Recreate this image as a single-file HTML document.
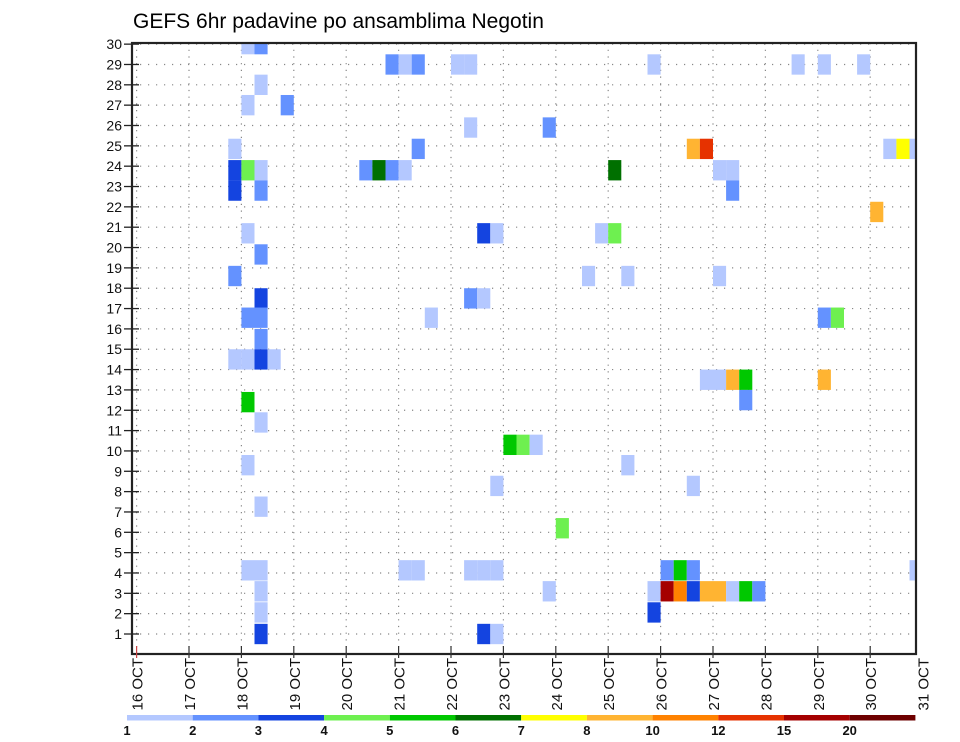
<!DOCTYPE html>
<html><head><meta charset="utf-8"><style>
html,body{margin:0;padding:0;background:#fff;}
svg{display:block;font-family:"Liberation Sans",sans-serif;}
</style></head><body>
<svg id="chart" width="960" height="742" viewBox="0 0 960 742" xmlns="http://www.w3.org/2000/svg">
<text x="133" y="28" font-size="21" fill="#000">GEFS 6hr padavine po ansamblima Negotin</text>
<g id="grid"></g>
<g id="cells"></g>
<g id="axes"></g>
<g id="legend"></g>
</svg>
<script>
// 6-hourly step index (from 16 OCT 00Z) at end of accumulation
const cellSteps =   [9,10, 20,21,22,25,26,40,51,53,56, 10, 9,12, 26,32, 8,22,43,44,58,59,60, 8,9,10,18,19,20,21,37,45,46, 8,10,46, 57, 9,27,28,36,37, 10, 8,35,38,45, 10,26,27, 9,10,23,53,54, 10, 8,9,10,11, 44,45,46,47,53, 9,47, 10, 29,30,31, 9,38, 28,43, 10, 33, 9,10,21,22,26,27,28,41,42,43,60, 10,32,40,41,42,43,44,45,46,47,48, 10,40, 10,27,28];
// ensemble member position (as read against the member axis)
const cellMembers = [30,30, 29,29,29,29,29,29,29,29,29, 28, 27,27, 25.9,25.9, 24.85,24.85,24.85,24.85,24.85,24.85,24.85, 23.8,23.8,23.8,23.8,23.8,23.8,23.8,23.8,23.8,23.8, 22.8,22.8,22.8, 21.75, 20.7,20.7,20.7,20.7,20.7, 19.66, 18.6,18.6,18.6,18.6, 17.5,17.5,17.5, 16.55,16.55,16.55,16.55,16.55, 15.5, 14.5,14.5,14.5,14.5, 13.5,13.5,13.5,13.5,13.5, 12.4,12.5, 11.4, 10.3,10.3,10.3, 9.3,9.3, 8.28,8.28, 7.26, 6.2, 4.13,4.13,4.13,4.13,4.13,4.13,4.13,4.13,4.13,4.13,4.13, 3.1,3.1,3.1,3.1,3.1,3.1,3.1,3.1,3.1,3.1,3.1, 2.06,2.06, 1,1,1];
// precipitation (mm / 6h)
const cellValues =  [1.5,2.5, 2.5,1.5,2.5,1.5,1.5,1.5,1.5,1.5,1.5, 1.5, 1.5,2.5, 1.5,2.5, 1.5,2.5,9,13.5,1.5,7.5,1.5, 3.5,4.5,1.5,2.5,6.5,2.5,1.5,6.5,1.5,1.5, 3.5,2.5,2.5, 9, 1.5,3.5,1.5,1.5,4.5, 2.5, 2.5,1.5,1.5,1.5, 3.5,2.5,1.5, 2.5,2.5,1.5,2.5,4.5, 2.5, 1.5,1.5,3.5,1.5, 1.5,1.5,9,5.5,9, 5.5,2.5, 1.5, 5.5,4.5,1.5, 1.5,1.5, 1.5,1.5, 1.5, 4.5, 1.5,1.5,1.5,1.5,1.5,1.5,1.5,2.5,5.5,2.5,1.5, 1.5,1.5,1.5,17.5,11,3.5,9,9,1.5,5.5,2.5, 1.5,3.5, 3.5,3.5,1.5];
const levelBounds = [1,2,3,4,5,6,7,8,10,12,15,20];
const levelColors = ["#b4c8ff","#6492ff","#1444e0","#6ef050","#00c800","#007000","#ffff00","#ffb432","#ff8200","#e63200","#a50000","#6e0000"];
const dayLabels = ["16 OCT","17 OCT","18 OCT","19 OCT","20 OCT","21 OCT","22 OCT","23 OCT","24 OCT","25 OCT","26 OCT","27 OCT","28 OCT","29 OCT","30 OCT","31 OCT"];
const memberTicks = [1,2,3,4,5,6,7,8,9,10,11,12,13,14,15,16,17,18,19,20,21,22,23,24,25,26,27,28,29,30];

const NS="http://www.w3.org/2000/svg";
const L=132,R=916,T=43,B=654;
const day0X=136.6, dayW=52.4;
const xStep = s => day0X + s*dayW/4;
const yMem = m => 634 - (m-1)*20.34;
const rowH = 20.34;
function colorFor(v){let k=0;for(let i=0;i<levelBounds.length;i++){if(v>=levelBounds[i])k=i;}return levelColors[k];}
function mk(tag,attrs,parent){const e=document.createElementNS(NS,tag);for(const a in attrs)e.setAttribute(a,attrs[a]);parent.appendChild(e);return e;}

const grid=document.getElementById('grid');
memberTicks.forEach(m=>{
  const l=mk('line',{x1:L,x2:R,y1:yMem(m),y2:yMem(m),stroke:'#888','stroke-width':1.2,'stroke-dasharray':'1.2,6.8'},grid);
  
  
});
dayLabels.forEach((d,i)=>{
  const x=day0X+i*dayW; if(x>R)return;
  const l=mk('line',{x1:x,x2:x,y1:T,y2:B,stroke:'#888','stroke-width':1.2,'stroke-dasharray':'1.2,5.5'},grid);
  
  
});

const cg=document.getElementById('cells');
const clip=mk('clipPath',{id:'pc'},document.getElementById('chart'));
mk('rect',{x:L,y:T,width:R-L,height:B-T},clip);
cg.setAttribute('clip-path','url(#pc)');
cellSteps.forEach((s,i)=>{
  const x1=xStep(s-1), x2=xStep(s), yc=yMem(cellMembers[i]);
  const r=mk('rect',{x:x1,y:yc-rowH/2,width:x2-x1,height:rowH,fill:colorFor(cellValues[i])},cg);
  
  
});

const ax=document.getElementById('axes');
const fr=mk('rect',{x:L,y:T,width:R-L,height:B-T,fill:'none',stroke:'#222','stroke-width':2.2},ax);


memberTicks.forEach(m=>{
  const y=yMem(m);
  mk('line',{x1:124,x2:L+7,y1:y,y2:y,stroke:'#222','stroke-width':1.3},ax);
  const t=mk('text',{x:122,y:y+5,'font-size':14,'text-anchor':'end',fill:'#111'},ax);
  t.textContent=m;
  
  
});
dayLabels.forEach((d,i)=>{
  const x=day0X+i*dayW;
  if(x<=R+1) mk('line',{x1:x,x2:x,y1:B-8,y2:B+4,stroke:i==0?'#c44':'#333','stroke-width':1.2},ax);
  const t=mk('text',{x:0,y:0,'font-size':15,'text-anchor':'end',fill:'#111',transform:`translate(${x+6},658) rotate(-90)`},ax);
  t.textContent=d;
  
  
});

const lg=document.getElementById('legend');
const lx0=127, lw=65.7;
levelColors.forEach((c,i)=>{
  const r=mk('rect',{x:lx0+i*lw,y:715,width:lw,height:5.5,fill:c},lg);
  
  
  const t=mk('text',{x:lx0+i*lw,y:735,'font-size':13,'font-weight':'bold','text-anchor':'middle',fill:'#111'},lg);
  t.textContent=levelBounds[i];
  
  
});
</script>
</body></html>
